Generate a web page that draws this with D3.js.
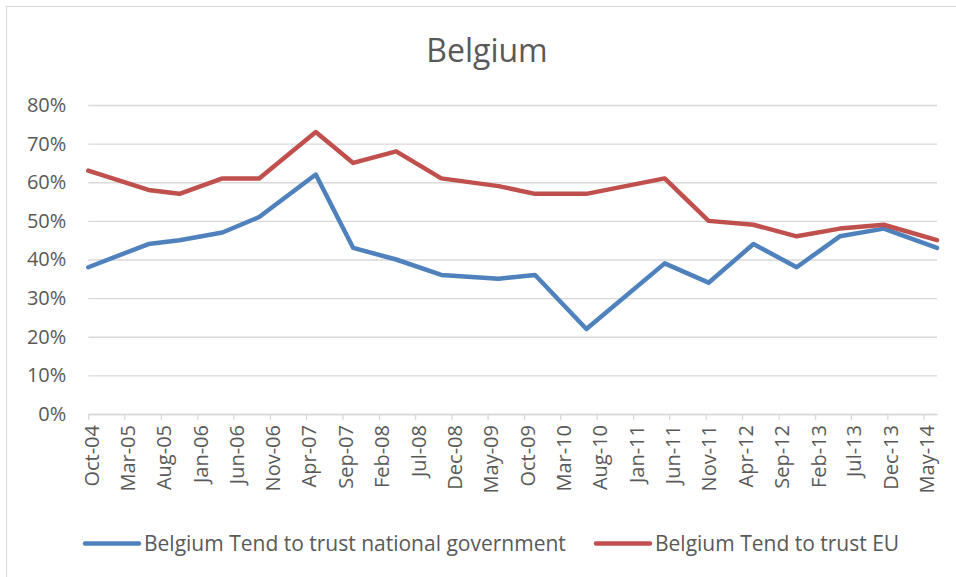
<!DOCTYPE html>
<html>
<head>
<meta charset="utf-8">
<script src="https://cdn.jsdelivr.net/npm/d3@7"></script>
<style>
  body { margin: 0; background: #fff; }
  text { font-family: "Open Sans", sans-serif; fill: #595959; }
</style>
</head>
<body>
<div id="chart"></div>
<script>
// survey dates and the two series, in %
var surveyDates = ["2004-10-01", "2005-06-10", "2005-10-18", "2006-04-16", "2006-09-17",
  "2007-05-12", "2007-10-16", "2008-04-13", "2008-10-19", "2009-06-16", "2009-11-16",
  "2010-06-19", "2011-05-13", "2011-11-13", "2012-05-19", "2012-11-16", "2013-05-16",
  "2013-11-16", "2014-06-27"];
var trustGov = [38, 44, 45, 47, 51, 62, 43, 40, 36, 35, 36, 22, 39, 34, 44, 38, 46, 48, 43];
var trustEU = [63, 58, 57, 61, 61, 73, 65, 68, 61, 59, 57, 57, 61, 50, 49, 46, 48, 49, 45];

var xTickLabels = ["Oct-04", "Mar-05", "Aug-05", "Jan-06", "Jun-06", "Nov-06", "Apr-07",
  "Sep-07", "Feb-08", "Jul-08", "Dec-08", "May-09", "Oct-09", "Mar-10", "Aug-10", "Jan-11",
  "Jun-11", "Nov-11", "Apr-12", "Sep-12", "Feb-13", "Jul-13", "Dec-13", "May-14"];
var yTicks = [0, 10, 20, 30, 40, 50, 60, 70, 80];

var seriesNames = ["Belgium Tend to trust national government", "Belgium Tend to trust EU"];
var seriesColors = ["#4f81bd", "#c0504d"];

var svgWidth = 956;
var svgHeight = 577;
var plot = { left: 88.3, right: 937, top: 105, bottom: 414 };

var svg = d3.select("#chart")
  .append("svg")
  .attr("width", svgWidth)
  .attr("height", svgHeight);

// chart border
svg.append("rect")
  .attr("x", 6.5).attr("y", 6.5)
  .attr("width", 1000).attr("height", 1000)
  .attr("fill", "none")
  .attr("stroke", "#d9d9d9")
  .attr("stroke-width", 1);

var parseDate = d3.timeParse("%Y-%m-%d");
var parseTick = d3.timeParse("%b-%y");
var dates = surveyDates.map(parseDate);
var tickDates = xTickLabels.map(parseTick);

var x = d3.scaleTime()
  .domain(d3.extent(dates))
  .range([plot.left, plot.right]);

var y = d3.scaleLinear()
  .domain([0, 80])
  .range([plot.bottom, plot.top]);

// gridlines + y labels
var yAxis = d3.axisLeft(y)
  .tickValues(yTicks)
  .tickSize(-(plot.right - plot.left))
  .tickPadding(22)
  .tickFormat(d => d + "%");

svg.append("g")
  .attr("transform", `translate(${plot.left},0)`)
  .call(yAxis)
  .call(g => g.select(".domain").remove())
  .call(g => g.selectAll(".tick line").attr("stroke", "#d9d9d9").attr("stroke-width", 1.3))
  .call(g => g.selectAll(".tick text")
    .attr("font-size", "20px")
    .attr("fill", "#595959")
    .attr("font-family", "Open Sans"));

// x axis
var xAxis = d3.axisBottom(x)
  .tickValues(tickDates)
  .tickSize(6)
  .tickSizeOuter(0)
  .tickFormat((d, i) => xTickLabels[i]);

svg.append("g")
  .attr("transform", `translate(0,${plot.bottom})`)
  .call(xAxis)
  .call(g => g.select(".domain").attr("stroke", "#d9d9d9").attr("stroke-width", 1.3))
  .call(g => g.selectAll(".tick line").attr("stroke", "#d9d9d9").attr("stroke-width", 1.3))
  .call(g => g.selectAll(".tick text")
    .attr("font-size", "20px")
    .attr("fill", "#595959")
    .attr("font-family", "Open Sans")
    .attr("text-anchor", "end")
    .attr("transform", "rotate(-90)")
    .attr("x", -11)
    .attr("y", 3)
    .attr("dy", "0.35em"));

// lines
var line = d3.line()
  .x((d, i) => x(dates[i]))
  .y(d => y(d));

[trustGov, trustEU].forEach(function(series, k) {
  svg.append("path")
    .datum(series)
    .attr("d", line)
    .attr("fill", "none")
    .attr("stroke", seriesColors[k])
    .attr("stroke-width", 4.5)
    .attr("stroke-linejoin", "round")
    .attr("stroke-linecap", "round");
});

// title
svg.append("text")
  .attr("x", 487)
  .attr("y", 62)
  .attr("text-anchor", "middle")
  .attr("font-size", "32px")
  .text("Belgium");

// legend
var legendX = [85, 596];
seriesNames.forEach(function(name, k) {
  svg.append("line")
    .attr("x1", legendX[k]).attr("x2", legendX[k] + 54)
    .attr("y1", 543.5).attr("y2", 543.5)
    .attr("stroke", seriesColors[k])
    .attr("stroke-width", 4.5)
    .attr("stroke-linecap", "round");
  svg.append("text")
    .attr("x", legendX[k] + 59)
    .attr("y", 551)
    .attr("font-size", "21px")
    .text(name);
});
</script>
</body>
</html>
